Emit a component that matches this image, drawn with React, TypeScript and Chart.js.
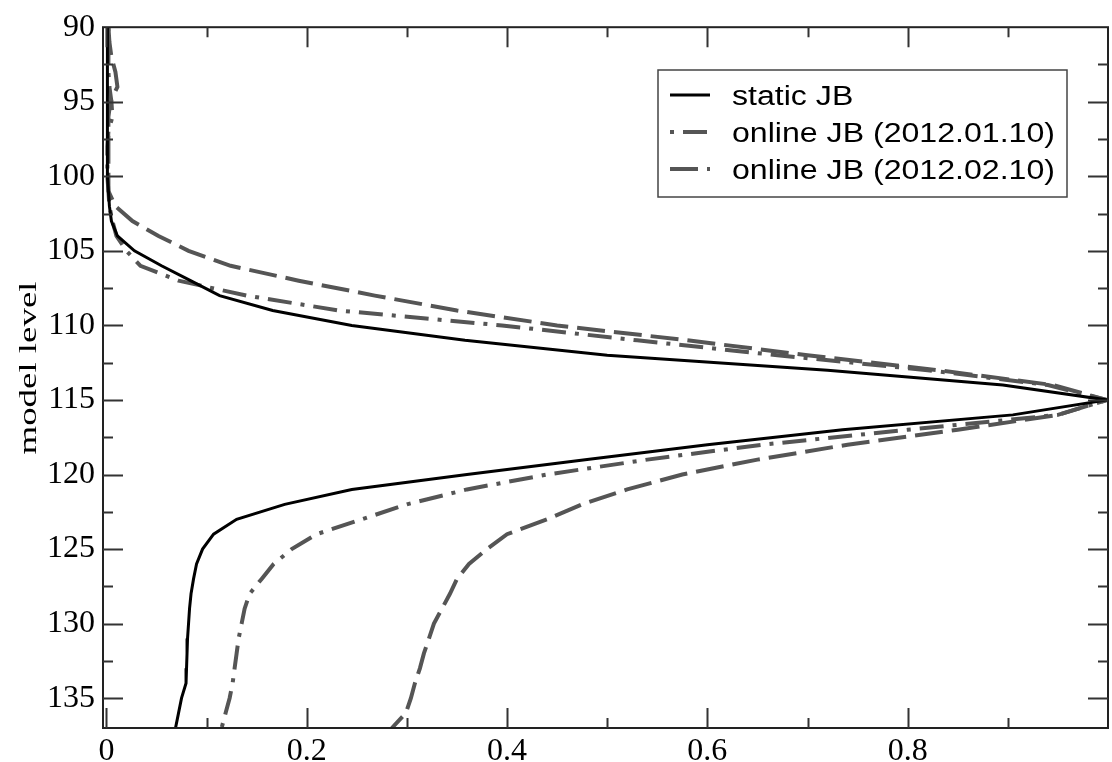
import React, { useEffect, useRef } from 'react';
import { Chart, registerables } from 'chart.js';

Chart.register(...registerables);

// ---- data ----
const levels = [
  90, 91, 92, 93, 94, 95, 96, 97, 98, 99,
  100, 101, 102, 103, 104, 105, 106, 107, 108, 109,
  110, 111, 112, 113, 114, 115, 116, 117, 118, 119,
  120, 121, 122, 123, 124, 125, 126, 127, 128, 129,
  130, 131, 132, 133, 134, 135, 136, 137,
];

const staticJB = [
  0.001, 0.001, 0.001, 0.001, 0.001, 0.001, 0.001, 0.001, 0.001, 0.001,
  0.001, 0.002, 0.003, 0.005, 0.011, 0.028, 0.055, 0.084, 0.113, 0.166,
  0.245, 0.358, 0.5, 0.72, 0.895, 0.999, 0.905, 0.735, 0.6, 0.48,
  0.36, 0.245, 0.178, 0.13, 0.107, 0.096, 0.09, 0.087, 0.0845, 0.083,
  0.082, 0.081, 0.0805, 0.08, 0.0795, 0.075, 0.072, 0.069,
];

const onlineJan = [
  0.002, 0.002, 0.002, 0.002, 0.003, 0.005, 0.006, 0.002, 0.001, 0.001,
  0.001, 0.002, 0.003, 0.006, 0.01, 0.02, 0.034, 0.072, 0.14, 0.232,
  0.395, 0.53, 0.67, 0.82, 0.94, 0.999, 0.95, 0.8, 0.655, 0.54,
  0.44, 0.36, 0.3, 0.255, 0.21, 0.185, 0.167, 0.155, 0.143, 0.138,
  0.135, 0.132, 0.13, 0.128, 0.126, 0.123, 0.119, 0.115,
];

const onlineFeb = [
  0.002, 0.003, 0.005, 0.009, 0.011, 0.004, 0.002, 0.002, 0.002, 0.002,
  0.002, 0.002, 0.009, 0.026, 0.052, 0.082, 0.124, 0.192, 0.268, 0.35,
  0.45, 0.58, 0.7, 0.83, 0.945, 0.999, 0.95, 0.85, 0.74, 0.65,
  0.575, 0.52, 0.475, 0.44, 0.4, 0.38, 0.362, 0.35, 0.343, 0.335,
  0.327, 0.322, 0.317, 0.313, 0.308, 0.304, 0.299, 0.285,
];

const seriesLabels = ['static JB', 'online JB (2012.01.10)', 'online JB (2012.02.10)'];

const xMajorTicks = [0, 0.2, 0.4, 0.6, 0.8, 1.0];
const xTickLabels = ['0', '0.2', '0.4', '0.6', '0.8', ''];
const xMinorTicks = [0.1, 0.3, 0.5, 0.7, 0.9];

const yMajorTicks = [90, 95, 100, 105, 110, 115, 120, 125, 130, 135];
const yTickLabels = ['90', '95', '100', '105', '110', '115', '120', '125', '130', '135'];
const yMinorTicks = [92.5, 97.5, 102.5, 107.5, 112.5, 117.5, 122.5, 127.5, 132.5];

const yTitle = 'model level';

// ---- styles ----
const GRAY = '#555555';
const DASH_JAN = [4, 9, 24, 9];
const DASH_FEB = [28, 9];
const SERIF = '"Liberation Serif", "DejaVu Serif", serif';
const SANS = '"Liberation Sans", Arial, sans-serif';

const framePlugin = {
  id: 'frameTicks',
  afterDatasetsDraw(chart: any) {
    const { ctx, chartArea } = chart;
    const xs = chart.scales.x;
    const ys = chart.scales.y;
    const { left, right, top, bottom } = chartArea;
    ctx.save();
    ctx.strokeStyle = '#222';
    ctx.lineWidth = 2;
    ctx.setLineDash([]);
    ctx.strokeRect(left, top, right - left, bottom - top);
    ctx.beginPath();
    const major = 20;
    const minor = 10;
    const xt = (vals: number[], len: number) => {
      vals.forEach((v) => {
        const px = Math.round(xs.getPixelForValue(v)) + 0.5;
        if (px < left + 1 || px > right - 1) return;
        ctx.moveTo(px, bottom);
        ctx.lineTo(px, bottom - len);
        ctx.moveTo(px, top);
        ctx.lineTo(px, top + len);
      });
    };
    const yt = (vals: number[], len: number) => {
      vals.forEach((v) => {
        const py = Math.round(ys.getPixelForValue(v)) + 0.5;
        if (py < top + 1 || py > bottom - 1) return;
        ctx.moveTo(left, py);
        ctx.lineTo(left + len, py);
        ctx.moveTo(right, py);
        ctx.lineTo(right - len, py);
      });
    };
    xt(xMajorTicks, major);
    xt(xMinorTicks, minor);
    yt(yMajorTicks, major);
    yt(yMinorTicks, minor);
    ctx.lineWidth = 2;
    ctx.strokeStyle = '#333';
    ctx.stroke();
    ctx.restore();
  },
};

const legendPlugin = {
  id: 'customLegend',
  afterDraw(chart: any) {
    const { ctx } = chart;
    const bx = 658, by = 70, bw = 409, bh = 127;
    ctx.save();
    ctx.fillStyle = '#fff';
    ctx.fillRect(bx, by, bw, bh);
    ctx.strokeStyle = '#444';
    ctx.lineWidth = 1.5;
    ctx.setLineDash([]);
    ctx.strokeRect(bx, by, bw, bh);
    const styles = chart.data.datasets.map((d: any) => ({
      color: d.borderColor,
      width: d.borderWidth,
      dash: d.borderDash || [],
    }));
    ctx.font = '27px ' + SANS;
    const targetW = 323;
    const natW = ctx.measureText(seriesLabels[1]).width;
    const sx = targetW / natW;
    const rows = [95, 132, 169];
    seriesLabels.forEach((lab, i) => {
      const y = rows[i];
      ctx.beginPath();
      ctx.strokeStyle = styles[i].color;
      ctx.lineWidth = styles[i].width;
      ctx.setLineDash(styles[i].dash);
      ctx.lineDashOffset = 0;
      ctx.moveTo(670, y);
      ctx.lineTo(710, y);
      ctx.stroke();
      ctx.setLineDash([]);
      ctx.save();
      ctx.translate(732, y + 9.5);
      ctx.scale(sx, 1);
      ctx.fillStyle = '#000';
      ctx.textBaseline = 'alphabetic';
      ctx.textAlign = 'left';
      ctx.fillText(lab, 0, 0);
      ctx.restore();
    });
    ctx.restore();
  },
};

const titlePlugin = {
  id: 'yTitle',
  afterDraw(chart: any) {
    const { ctx } = chart;
    ctx.save();
    ctx.font = '25px ' + SERIF;
    const target = 173;
    const w = ctx.measureText(yTitle).width;
    ctx.translate(36, 368);
    ctx.rotate(-Math.PI / 2);
    ctx.scale(target / w, 1);
    ctx.fillStyle = '#000';
    ctx.textBaseline = 'alphabetic';
    ctx.textAlign = 'center';
    ctx.fillText(yTitle, 0, 0);
    ctx.restore();
  },
};

export default function App() {
  const ref = useRef<HTMLCanvasElement | null>(null);

  useEffect(() => {
    if (!ref.current) return;
    const mk = (vals: number[]) => vals.map((v, i) => ({ x: v, y: levels[i] }));
    const chart = new Chart(ref.current, {
      type: 'scatter',
      data: {
        datasets: [
          {
            label: seriesLabels[0],
            data: mk(staticJB),
            showLine: true,
            borderColor: '#000000',
            backgroundColor: '#000000',
            borderWidth: 3,
            pointRadius: 0,
            tension: 0,
          },
          {
            label: seriesLabels[1],
            data: mk(onlineJan),
            showLine: true,
            borderColor: GRAY,
            backgroundColor: GRAY,
            borderWidth: 4,
            borderDash: DASH_JAN,
            pointRadius: 0,
            tension: 0,
          },
          {
            label: seriesLabels[2],
            data: mk(onlineFeb),
            showLine: true,
            borderColor: GRAY,
            backgroundColor: GRAY,
            borderWidth: 4,
            borderDash: DASH_FEB,
            pointRadius: 0,
            tension: 0,
          },
        ] as any,
      },
      options: {
        animation: false,
        responsive: false,
        maintainAspectRatio: false,
        events: [],
        layout: { padding: { top: 20, right: 0, left: 0, bottom: 0 } },
        plugins: {
          legend: { display: false },
          tooltip: { enabled: false },
          title: { display: false },
        },
        scales: {
          x: {
            type: 'linear',
            min: -0.0034,
            max: 1.0,
            afterBuildTicks: (s: any) => {
              s.ticks = xMajorTicks.map((v) => ({ value: v }));
            },
            afterFit: (s: any) => {
              s.height = 34;
            },
            grid: { display: false, drawTicks: false },
            border: { display: false },
            ticks: {
              autoSkip: false,
              maxRotation: 0,
              padding: 4,
              color: '#000',
              font: { family: SERIF, size: 32 },
              callback: (_v: any, i: number) => xTickLabels[i],
            },
          },
          y: {
            type: 'linear',
            reverse: true,
            min: 90,
            max: 137,
            afterBuildTicks: (s: any) => {
              s.ticks = yMajorTicks.map((v) => ({ value: v }));
            },
            afterFit: (s: any) => {
              s.width = 103;
            },
            grid: { display: false, drawTicks: false },
            border: { display: false },
            ticks: {
              autoSkip: false,
              padding: 8,
              color: '#000',
              font: { family: SERIF, size: 32 },
              callback: (_v: any, i: number) => yTickLabels[i],
            },
          },
        },
      } as any,
      plugins: [framePlugin, legendPlugin, titlePlugin],
    });
    return () => chart.destroy();
  }, []);

  return (
    <div style={{ position: 'fixed', left: 0, top: 0, width: 1112, height: 762, background: '#fff' }}>
      <canvas ref={ref} width={1112} height={762} style={{ display: 'block' }} />
    </div>
  );
}
